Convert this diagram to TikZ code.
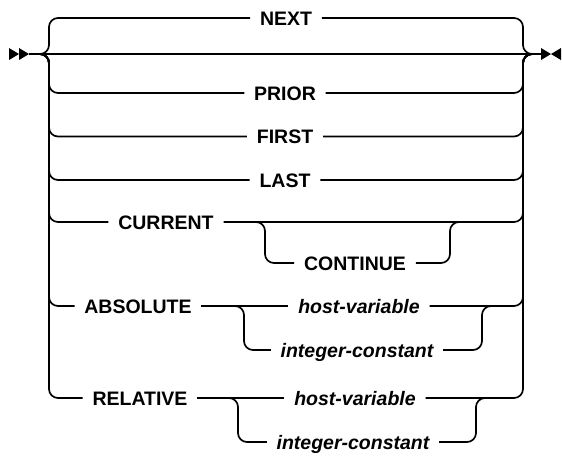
\documentclass[tikz,border=0pt]{standalone}
\usepackage{fontspec}
\setmainfont{Liberation Sans}
\usetikzlibrary{positioning}

\begin{document}
\begin{tikzpicture}[x=1pt, y=-1pt, line width=1.7pt, node distance=43.5pt,
  rail/.style={rounded corners=9pt},
  kw/.style={inner xsep=9pt, inner ysep=0pt, text height=14pt, text depth=0pt,
    font=\fontsize{19.5}{20}\selectfont\bfseries},
  var/.style={kw, font=\fontsize{19.5}{20}\selectfont\bfseries\itshape}]

  \useasboundingbox (0,0) rectangle (562,456);

  \coordinate (start) at (29,54);
  \coordinate (split) at (40,54);
  \coordinate (lrail) at (49,54);
  \coordinate (rrail) at (523,54);
  \coordinate (join)  at (532,54);
  \coordinate (stop)  at (541,54);

  \node[kw] (next)     at (286,18) {NEXT};
  \node[kw] (prior)    at (285,93) {PRIOR};
  \node[kw] (first)    [below of=prior] {FIRST};
  \node[kw] (last)     [below of=first] {LAST};
  \node[kw] (current)  at (166,222) {CURRENT};
  \node[kw] (continue) at (355,263) {CONTINUE};
  \node[kw] (absolute) at (138,306) {ABSOLUTE};
  \node[var] (abshost) at (359,306) {host-variable};
  \node[var] (absint)  at (357,350) {integer-constant};
  \node[kw] (relative) at (140,398) {RELATIVE};
  \node[var] (relhost) at (355,398) {host-variable};
  \node[var] (relint)  at (353,442) {integer-constant};

  \coordinate (curl) at (265,222);
  \coordinate (curr) at (450,222);
  \coordinate (absl) at (244,306);
  \coordinate (absr) at (482,306);
  \coordinate (rell) at (238,398);
  \coordinate (relr) at (476,398);

  % main line
  \fill (9,48) -- (19,54) -- (9,60) -- cycle;
  \fill (19,48) -- (start) -- (19,60) -- cycle;
  \draw (start) -- (stop);
  \fill (stop) ++(0,-6) -- (551,54) -- (541,60) -- cycle;
  \fill (561,48) -- (551,54) -- (561,60) -- cycle;

  % choices
  \foreach \n in {next, prior, first, last, current, absolute, relative}
    \draw[rail] (split) -| (lrail |- \n) -- (\n.west);
  \foreach \n in {next, prior, first, last, current, abshost, relhost}
    \draw[rail] (\n.east) -- (rrail |- \n) |- (join);
  \draw (absolute.east) -- (abshost.west);
  \draw (relative.east) -- (relhost.west);

  % sub choices
  \draw[rail] ([xshift=-10pt]curl) -| (curl |- continue) -- (continue.west);
  \draw[rail] (continue.east) -- (curr |- continue) |- ([xshift=10pt]curr);
  \draw[rail] ([xshift=-9pt]absl) -| (absl |- absint) -- (absint.west);
  \draw[rail] (absint.east) -- (absr |- absint) |- ([xshift=9pt]absr);
  \draw[rail] ([xshift=-9pt]rell) -| (rell |- relint) -- (relint.west);
  \draw[rail] (relint.east) -- (relr |- relint) |- ([xshift=9pt]relr);

\end{tikzpicture}
\end{document}
